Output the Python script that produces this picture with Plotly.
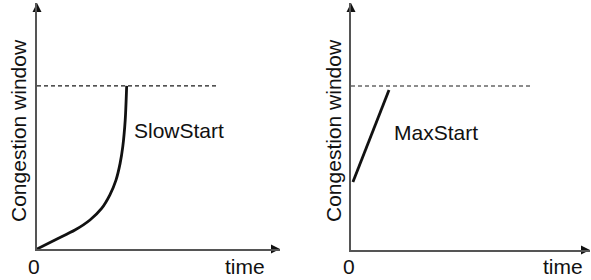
import plotly.graph_objects as go

W, H = 591, 280

# ---- data ----
slow_time = [0, 0.74, 1.56, 2.18, 2.66, 3.00, 3.25, 3.42, 3.53, 3.63, 3.69]
slow_cwnd = [0, 0.37, 0.77, 1.18, 1.65, 2.20, 2.80, 3.48, 4.16, 5.24, 6.63]
max_time = [0.08, 1.59]
max_cwnd = [2.75, 6.48]
threshold_left = [6.63, 6.63]
threshold_left_time = [0, 7.41]
threshold_right = [6.64, 6.64]
threshold_right_time = [0, 7.57]
axis_end = 10
tick_label = "0"
x_label = "time"
y_label = "Congestion window"
curve_labels = ["SlowStart", "MaxStart"]

FONT = "Liberation Sans, Arial, Helvetica, sans-serif"
AX_COLOR = "#555555"
TXT = "#111111"

fig = go.Figure()

def add_panel(xa, ya, t, w, thr_t, thr_w):
    fig.add_trace(go.Scatter(x=thr_t, y=thr_w, mode="lines", xaxis=xa, yaxis=ya,
                             line=dict(color="#1a1a1a", width=1.1, dash="4px,3px"),
                             showlegend=False, hoverinfo="skip"))
    fig.add_trace(go.Scatter(x=t, y=w, mode="lines", xaxis=xa, yaxis=ya,
                             line=dict(color="#111111", width=2.8, shape="spline", smoothing=0.8),
                             showlegend=False, hoverinfo="skip"))
    # arrow heads at axis ends
    fig.add_trace(go.Scatter(x=[axis_end], y=[0], mode="markers", xaxis=xa, yaxis=ya,
                             marker=dict(symbol="arrow-right", size=9, color="#111111"),
                             cliponaxis=False, showlegend=False, hoverinfo="skip"))
    fig.add_trace(go.Scatter(x=[0], y=[axis_end], mode="markers", xaxis=xa, yaxis=ya,
                             marker=dict(symbol="arrow-up", size=9, color="#111111"),
                             cliponaxis=False, showlegend=False, hoverinfo="skip"))

add_panel("x", "y", slow_time, slow_cwnd, threshold_left_time, threshold_left)
add_panel("x2", "y2", max_time, max_cwnd, threshold_right_time, threshold_right)

ax_common = dict(range=[0, axis_end], showgrid=False, zeroline=False, showticklabels=False,
                 ticks="", showline=True, linecolor=AX_COLOR, linewidth=1.5, fixedrange=True)

fig.update_layout(
    width=W, height=H,
    margin=dict(l=0, r=0, t=0, b=0),
    paper_bgcolor="white", plot_bgcolor="white",
    font=dict(family=FONT, size=21, color=TXT),
    xaxis=dict(domain=[37 / W, 280 / W], anchor="y", **ax_common),
    yaxis=dict(domain=[(H - 249) / H, (H - 3) / H], anchor="x", **ax_common),
    xaxis2=dict(domain=[351 / W, 590 / W], anchor="y2", **ax_common),
    yaxis2=dict(domain=[(H - 250) / H, (H - 3) / H], anchor="x2", **ax_common),
)

ann = []
# y-axis titles
for xp in (18, 333):
    ann.append(dict(text=y_label, textangle=-90, x=xp / W, y=(H - 131) / H, xref="paper", yref="paper",
                    xanchor="center", yanchor="middle", showarrow=False))
# tick "0" and "time"
for xp in (34, 349):
    ann.append(dict(text=tick_label, x=xp / W, xref="paper", y=(H - 266) / H, yref="paper",
                    xanchor="center", yanchor="middle", showarrow=False))
ann.append(dict(text=x_label, x=8.58, xref="x", y=(H - 266) / H, yref="paper",
                xanchor="center", yanchor="middle", showarrow=False))
ann.append(dict(text=x_label, x=8.86, xref="x2", y=(H - 266) / H, yref="paper",
                xanchor="center", yanchor="middle", showarrow=False))
# curve labels
ann.append(dict(text=curve_labels[0], x=3.92, y=4.82, xref="x", yref="y",
                xanchor="left", yanchor="middle", showarrow=False))
ann.append(dict(text=curve_labels[1], x=1.72, y=4.74, xref="x2", yref="y2",
                xanchor="left", yanchor="middle", showarrow=False))
fig.update_layout(annotations=ann)

fig.write_html("out.html", config={"displayModeBar": False},
               post_script="document.body.style.margin='0';document.body.style.overflow='hidden';")
